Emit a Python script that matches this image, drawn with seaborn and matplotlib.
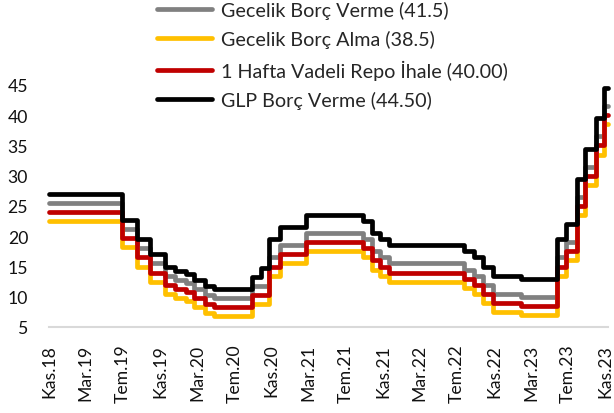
import pandas as pd
import matplotlib
matplotlib.use('Agg')
import matplotlib.pyplot as plt
import seaborn as sns

# Politika faizi ve faiz koridoru (değişiklik tarihleri ve seviyeleri)
change_dates = ['2018-11-27', '2019-07-25', '2019-09-12', '2019-10-24', '2019-12-12',
                '2020-01-16', '2020-02-19', '2020-03-17', '2020-04-22', '2020-05-21',
                '2020-09-24', '2020-10-22', '2020-11-19', '2020-12-24', '2021-03-18',
                '2021-09-23', '2021-10-21', '2021-11-18', '2021-12-16', '2022-08-18',
                '2022-09-22', '2022-10-20', '2022-11-24', '2023-02-23', '2023-06-22',
                '2023-07-20', '2023-08-24', '2023-09-21', '2023-10-26', '2023-11-23']
end_date = '2023-12-05'

gecelik_verme = [25.5, 21.25, 18, 15.5, 13.5, 12.75, 12.25, 11.25, 10.25, 9.75,
                 11.75, 11.75, 16.5, 18.5, 20.5, 19.5, 17.5, 16.5, 15.5, 14.5,
                 13.5, 12, 10.5, 10, 16.5, 19, 26.5, 31.5, 36.5, 41.5]
gecelik_alma = [22.5, 18.25, 15, 12.5, 10.5, 9.75, 9.25, 8.25, 7.25, 6.75,
                8.75, 8.75, 13.5, 15.5, 17.5, 16.5, 14.5, 13.5, 12.5, 11.5,
                10.5, 9, 7.5, 7, 13.5, 16, 23.5, 28.5, 33.5, 38.5]
repo = [24, 19.75, 16.5, 14, 12, 11.25, 10.75, 9.75, 8.75, 8.25,
        10.25, 10.25, 15, 17, 19, 18, 16, 15, 14, 13,
        12, 10.5, 9, 8.5, 15, 17.5, 25, 30, 35, 40]
glp = [27, 22.75, 19.5, 17, 15, 14.25, 13.75, 12.75, 11.75, 11.25,
       13.25, 14.75, 19.5, 21.5, 23.5, 22.5, 20.5, 19.5, 18.5, 17.5,
       16.5, 15, 13.5, 13, 19.5, 22, 29.5, 34.5, 39.5, 44.5]

series_names = ['Gecelik Borç Verme (41.5)', 'Gecelik Borç Alma (38.5)',
                '1 Hafta Vadeli Repo İhale (40.00)', 'GLP Borç Verme (44.50)']
colors = ['#808080', '#FFC000', '#C00000', '#000000']

tick_labels = ['Kas.18', 'Mar.19', 'Tem.19', 'Kas.19', 'Mar.20', 'Tem.20', 'Kas.20', 'Mar.21',
               'Tem.21', 'Kas.21', 'Mar.22', 'Tem.22', 'Kas.22', 'Mar.23', 'Tem.23', 'Kas.23']

# uzun formatta tablo
frames = []
for name, vals in zip(series_names, [gecelik_verme, gecelik_alma, repo, glp]):
    frames.append(pd.DataFrame({
        'tarih': pd.to_datetime(change_dates + [end_date]),
        'oran': vals + [vals[-1]],
        'seri': name,
    }))
df = pd.concat(frames, ignore_index=True)

sns.set_style('white')
plt.rcParams['font.family'] = ['Lato', 'DejaVu Sans']

fig = plt.figure(figsize=(6.14, 4.14), dpi=100)
ax = fig.add_axes([49 / 614, 1 - 328 / 414, 559 / 614, 242 / 414])

sns.lineplot(data=df, x='tarih', y='oran', hue='seri', hue_order=series_names,
             palette=colors, drawstyle='steps-post', linewidth=3.4,
             legend=False, ax=ax, clip_on=False)

ax.set_xlim(pd.Timestamp(change_dates[0]), pd.Timestamp(end_date))
ax.set_ylim(5, 45)
ax.set_yticks(range(5, 50, 5))
ticks = pd.date_range(change_dates[0], periods=len(tick_labels), freq=pd.DateOffset(months=4))
ax.set_xticks(ticks)
ax.set_xticklabels(tick_labels, rotation=90)
ax.set_xlabel('')
ax.set_ylabel('')
ax.tick_params(axis='both', length=0, labelsize=12.7, colors='#111111')
ax.tick_params(axis='y', pad=15)
ax.tick_params(axis='x', pad=12)

for s in ['top', 'right', 'left']:
    ax.spines[s].set_visible(False)
ax.spines['bottom'].set_color('#D9D9D9')
ax.spines['bottom'].set_linewidth(1.5)

handles = ax.get_lines()[:4]
fig.legend(handles, series_names, loc='upper left', bbox_to_anchor=(157 / 614, 0.996),
           frameon=False, fontsize=14.2, handlelength=2.8, handletextpad=0.45,
           labelspacing=0.58, borderpad=0, borderaxespad=0)

fig.savefig('out.png', dpi=100)
